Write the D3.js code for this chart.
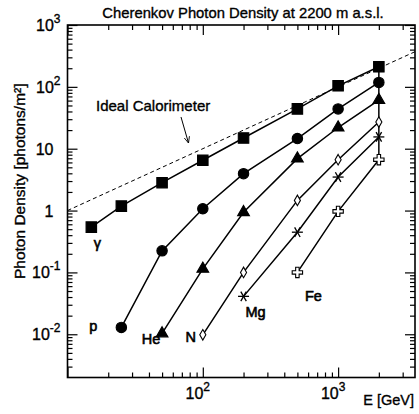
<!DOCTYPE html>
<html>
<head>
<meta charset="utf-8">
<script src="https://cdn.jsdelivr.net/npm/d3@7"></script>
<style>
  html, body { margin: 0; padding: 0; background: #fff; }
  svg { display: block; }
  text { font-family: "Liberation Sans", Arial, sans-serif; fill: #000; stroke: #000; stroke-width: 0.35px; }
</style>
</head>
<body>
<svg id="chart" width="419" height="414"></svg>
<script>
// ---- data ----
const titleText = "Cherenkov Photon Density at 2200 m a.s.l.";
const yTitle = "Photon Density [photons/m²]";
const xTitle = "E [GeV]";

const gammaE = [15, 25, 50, 100, 200, 500, 1000, 2000];
const gammaV = [0.54, 1.18, 2.82, 6.5, 14.9, 44, 104, 211];
const protonE = [25, 50, 100, 200, 500, 1000, 2000];
const protonV = [0.0129, 0.223, 1.07, 3.95, 14.6, 44, 118];
const heliumE = [50, 100, 200, 500, 1000, 2000];
const heliumV = [0.0103, 0.114, 0.94, 6.9, 22, 61];
const nitrogenE = [100, 200, 500, 1000, 2000];
const nitrogenV = [0.0098, 0.1, 1.46, 6.65, 27];
const magnesiumE = [200, 500, 1000, 2000];
const magnesiumV = [0.041, 0.447, 3.48, 15.5];
const ironE = [500, 1000, 2000];
const ironV = [0.1, 0.97, 6.65];

const idealE = [10, 3700];
const idealV = [1.0, 370];

const seriesNames = ["γ", "p", "He", "N", "Mg", "Fe"];
const yTickValues = [1e-2, 1e-1, 1, 10, 100, 1000];
const yTickLabels = [["10", "-2"], ["10", "-1"], ["1", ""], ["10", ""], ["10", "2"], ["10", "3"]];
const xTickValues = [100, 1000];
const xTickLabels = [["10", "2"], ["10", "3"]];
const xDomain = [10, 3700];
const yDomain = [0.002, 1000];

// ---- layout ----
const svg = d3.select("#chart");
const L = 67.5, R = 415, T = 25, B = 377.5;
const x = d3.scaleLog().domain(xDomain).range([L, R]);
const y = d3.scaleLog().domain(yDomain).range([B, T]);

function minorTicks(dom) {
  const out = [];
  const lo = Math.floor(Math.log10(dom[0])), hi = Math.ceil(Math.log10(dom[1]));
  for (let e = lo; e <= hi; e++) {
    for (let m = 2; m <= 9; m++) {
      const v = m * Math.pow(10, e);
      if (v > dom[0] && v < dom[1]) out.push(v);
    }
  }
  return out;
}
function majorTicks(dom) {
  const out = [];
  const lo = Math.ceil(Math.log10(dom[0])), hi = Math.floor(Math.log10(dom[1]));
  for (let e = lo; e <= hi; e++) out.push(Math.pow(10, e));
  return out;
}

const axesG = svg.append("g").attr("class", "axes");
function addAxis(axisFn, scale, transform, values, size) {
  const g = axesG.append("g").attr("transform", transform)
    .call(axisFn(scale).tickValues(values).tickSizeInner(-size).tickSizeOuter(0).tickFormat(""));
  g.select(".domain").remove();
  g.selectAll(".tick line").attr("stroke", "#000").attr("stroke-width", 1.2);
}
// bottom & top
addAxis(d3.axisBottom, x, `translate(0,${B})`, minorTicks(xDomain), 5);
addAxis(d3.axisBottom, x, `translate(0,${B})`, majorTicks(xDomain), 10);
addAxis(d3.axisTop, x, `translate(0,${T})`, minorTicks(xDomain), 5);
addAxis(d3.axisTop, x, `translate(0,${T})`, majorTicks(xDomain), 10);
// left & right
addAxis(d3.axisLeft, y, `translate(${L},0)`, minorTicks(yDomain), 5);
addAxis(d3.axisLeft, y, `translate(${L},0)`, majorTicks(yDomain), 10);
addAxis(d3.axisRight, y, `translate(${R},0)`, minorTicks(yDomain), 5);
addAxis(d3.axisRight, y, `translate(${R},0)`, majorTicks(yDomain), 10);

// frame
svg.append("rect").attr("x", L).attr("y", T).attr("width", R - L).attr("height", B - T)
  .attr("fill", "none").attr("stroke", "#000").attr("stroke-width", 1.6);

// tick labels
yTickValues.forEach((v, i) => {
  const t = svg.append("text").attr("x", L - 7).attr("y", y(v) + 6)
    .attr("text-anchor", "end").style("font-size", "16px");
  const [base, sup] = yTickLabels[i];
  if (sup) {
    t.append("tspan").text(base);
    t.append("tspan").attr("dy", -8).style("font-size", "12px").text(sup);
  } else {
    t.attr("x", L - 14).text(base);
  }
});
xTickValues.forEach((v, i) => {
  const t = svg.append("text").attr("x", x(v) - 5).attr("y", 399)
    .attr("text-anchor", "middle").style("font-size", "16px");
  const [base, sup] = xTickLabels[i];
  t.append("tspan").text(base);
  t.append("tspan").attr("dy", -8).style("font-size", "12px").text(sup);
});

// titles
svg.append("text").attr("x", 243).attr("y", 18).attr("text-anchor", "middle")
  .style("font-size", "14.8px").text(titleText);
svg.append("text").attr("transform", `translate(25,${(T + B) / 2 - 20}) rotate(-90)`)
  .attr("text-anchor", "middle").style("font-size", "15.5px").text(yTitle);
svg.append("text").attr("x", 414).attr("y", 405).attr("text-anchor", "end")
  .style("font-size", "14.5px").text(xTitle);

// ideal calorimeter dashed line
const line = d3.line().x(d => x(d[0])).y(d => y(d[1]));
svg.append("path").datum(idealE.map((e, i) => [e, idealV[i]]))
  .attr("d", line).attr("fill", "none").attr("stroke", "#000")
  .attr("stroke-width", 1).attr("stroke-dasharray", "4,3");

const series = [
  { E: gammaE, V: gammaV, sym: d3.symbolSquare, size: 110, fill: "#000" },
  { E: protonE, V: protonV, sym: d3.symbolCircle, size: 85, fill: "#000" },
  { E: heliumE, V: heliumV, sym: d3.symbolTriangle, size: 60, fill: "#000" },
  { E: nitrogenE, V: nitrogenV, sym: d3.symbolDiamond, size: 32, fill: "#fff" },
  { E: magnesiumE, V: magnesiumV, sym: "asterisk", size: 0, fill: "none" },
  { E: ironE, V: ironV, sym: d3.symbolCross, size: 60, fill: "#fff" }
];

// vertical connector at the highest common energy
const lastVals = series.map(s => s.V[s.V.length - 1]);
const lastE = gammaE[gammaE.length - 1];
svg.append("line").attr("x1", x(lastE)).attr("x2", x(lastE))
  .attr("y1", y(d3.max(lastVals))).attr("y2", y(d3.min(lastVals)))
  .attr("stroke", "#000").attr("stroke-width", 1.5);

const plotG = svg.append("g");
series.forEach(s => {
  const pts = s.E.map((e, i) => [e, s.V[i]]);
  plotG.append("path").datum(pts).attr("d", line)
    .attr("fill", "none").attr("stroke", "#000").attr("stroke-width", 1.5);
});
series.forEach(s => {
  const pts = s.E.map((e, i) => [e, s.V[i]]);
  pts.forEach(p => {
    const cx = x(p[0]), cy = y(p[1]);
    if (s.sym === "asterisk") {
      const r = 5.5;
      const g = plotG.append("g").attr("transform", `translate(${cx},${cy})`);
      [0, 60, 120].forEach(a => {
        const rad = a * Math.PI / 180;
        g.append("line").attr("x1", -r * Math.cos(rad)).attr("y1", -r * Math.sin(rad))
          .attr("x2", r * Math.cos(rad)).attr("y2", r * Math.sin(rad))
          .attr("stroke", "#000").attr("stroke-width", 1.3);
      });
    } else {
      plotG.append("path").attr("transform", `translate(${cx},${cy})`)
        .attr("d", d3.symbol().type(s.sym).size(s.size)())
        .attr("fill", s.fill).attr("stroke", "#000").attr("stroke-width", 1.1);
    }
  });
});

// series labels (offset from each series' first point)
const labelOffsets = [[6, 21], [-28, 4], [-11, 11], [-12, 7], [12, 21], [16, 29]];
series.forEach((s, i) => {
  const cx = x(s.E[0]), cy = y(s.V[0]);
  svg.append("text").attr("x", cx + labelOffsets[i][0]).attr("y", cy + labelOffsets[i][1])
    .attr("text-anchor", "middle").style("font-size", "14.5px")
    .style("stroke-width", "0.6px").text(seriesNames[i]);
});

// annotation
svg.append("text").attr("x", 96).attr("y", 111).style("font-size", "15px").text("Ideal Calorimeter");
svg.append("defs").append("marker").attr("id", "arrow").attr("viewBox", "0 0 10 10")
  .attr("refX", 9).attr("refY", 5).attr("markerWidth", 7).attr("markerHeight", 7)
  .attr("orient", "auto")
  .append("path").attr("d", "M0,1 L9,5 L0,9").attr("fill", "none").attr("stroke", "#000").attr("stroke-width", 1.2);
svg.append("line").attr("x1", 181).attr("y1", 117).attr("x2", 188.5).attr("y2", 143)
  .attr("stroke", "#000").attr("stroke-width", 1).attr("marker-end", "url(#arrow)");
</script>
</body>
</html>
